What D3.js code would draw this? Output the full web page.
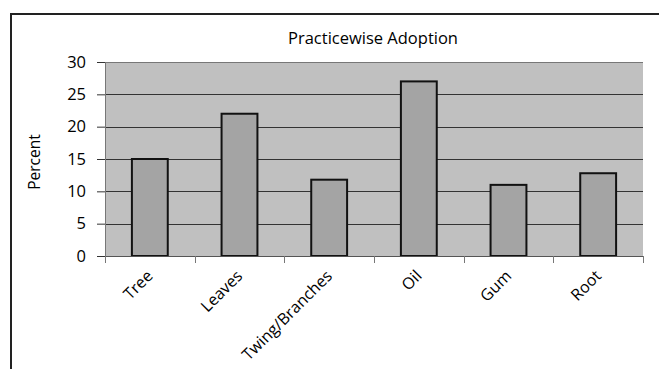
<!DOCTYPE html>
<html><head><meta charset="utf-8">
<script src="https://cdn.jsdelivr.net/npm/d3@7"></script>
<style>body{margin:0;background:#fff}svg{display:block}text{font-family:"Open Sans",sans-serif;fill:#000}</style>
</head><body>
<script>
const categories = ["Tree","Leaves","Twing/Branches","Oil","Gum","Root"];
const values = [15, 22, 11.8, 27, 11, 12.8];
const yTicks = [0,5,10,15,20,25,30];
const title = "Practicewise Adoption";
const yLabel = "Percent";

const W = 659, H = 369;
const FONT = "'Open Sans',sans-serif";
const svg = d3.select("body").append("svg").attr("width", W).attr("height", H);

// outer frame
svg.append("path").attr("d", `M11,${H+5} L11,14 L${W+5},14`).attr("fill","none").attr("stroke","#222").attr("stroke-width",2);

const m = {left:105, right:643, top:62, bottom:256};
const x = d3.scaleBand().domain(categories).range([m.left, m.right]).padding(0);
const y = d3.scaleLinear().domain([0,30]).range([m.bottom, m.top]);

svg.append("rect").attr("x", m.left).attr("y", m.top).attr("width", m.right-m.left).attr("height", m.bottom-m.top).attr("fill","#c0c0c0");

// gridlines
svg.append("g").selectAll("line").data(yTicks.filter(d=>d>0)).join("line")
  .attr("x1", m.left).attr("x2", m.right).attr("y1", d=>Math.round(y(d))+0.5).attr("y2", d=>Math.round(y(d))+0.5)
  .attr("stroke", d=> d===30 ? "#777" : "#333").attr("stroke-width",1);

// bars
const bw = x.bandwidth()*0.4;
svg.append("g").selectAll("rect").data(values).join("rect")
  .attr("x", (d,i)=> x(categories[i]) + x.bandwidth()/2 - bw/2)
  .attr("y", d=> y(d))
  .attr("width", bw)
  .attr("height", d=> y(0)-y(d))
  .attr("fill","#a4a4a4").attr("stroke","#111").attr("stroke-width",2);

// y axis
const ya = svg.append("g").attr("transform",`translate(${m.left},0)`)
  .call(d3.axisLeft(y).tickValues(yTicks).tickSize(8).tickPadding(11));
ya.select(".domain").attr("stroke","#777");
ya.selectAll(".tick line").attr("stroke","#333");
ya.selectAll("text").attr("font-size",16.5).style("font-family",FONT).attr("fill","#000");

// x axis
const xa = svg.append("g").attr("transform",`translate(0,${m.bottom})`)
  .call(d3.axisBottom(x).tickSize(0).tickFormat(""));
xa.select(".domain").attr("stroke","#555").attr("d", `M${m.left},0.5H${m.right}`);
const edges = categories.map(c=>x(c)).concat([m.right]);
xa.selectAll(".edge").data(edges).join("line").attr("class","edge")
  .attr("x1",d=>Math.round(d)+0.5).attr("x2",d=>Math.round(d)+0.5).attr("y1",0).attr("y2",7).attr("stroke","#777");

svg.append("g").selectAll("text").data(categories).join("text")
  .attr("transform", d=>`translate(${x(d)+x.bandwidth()/2+4},${m.bottom+21}) rotate(-45)`)
  .attr("text-anchor","end").attr("font-size",16).text(d=>d);

svg.append("text").attr("x", 373).attr("y", 43.5).attr("text-anchor","middle").attr("font-size",16.5).text(title);
svg.append("text").attr("transform", `translate(40,162) rotate(-90)`).attr("text-anchor","middle").attr("font-size",15.5).text(yLabel);
</script>
</body></html>
